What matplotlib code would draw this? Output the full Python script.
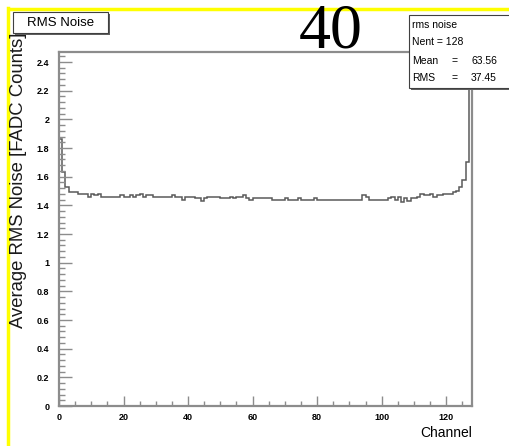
import numpy as np
import matplotlib
matplotlib.use('Agg')
import matplotlib.pyplot as plt
from matplotlib.patches import Rectangle
from matplotlib.ticker import MultipleLocator

# average rms noise per channel
rms_noise = [
    1.86, 1.63, 1.53, 1.49, 1.49, 1.49, 1.48, 1.48, 1.48, 1.46,
    1.48, 1.47, 1.48, 1.46, 1.46, 1.46, 1.46, 1.46, 1.46, 1.47,
    1.46, 1.46, 1.47, 1.46, 1.47, 1.48, 1.46, 1.47, 1.47, 1.46,
    1.46, 1.46, 1.46, 1.46, 1.46, 1.47, 1.46, 1.46, 1.44, 1.46,
    1.46, 1.46, 1.45, 1.45, 1.43, 1.45, 1.46, 1.46, 1.46, 1.46,
    1.45, 1.45, 1.45, 1.46, 1.45, 1.46, 1.46, 1.47, 1.45, 1.44,
    1.45, 1.45, 1.45, 1.45, 1.45, 1.45, 1.44, 1.44, 1.44, 1.44,
    1.45, 1.44, 1.44, 1.44, 1.45, 1.44, 1.44, 1.44, 1.44, 1.45,
    1.44, 1.44, 1.44, 1.44, 1.44, 1.44, 1.44, 1.44, 1.44, 1.44,
    1.44, 1.44, 1.44, 1.44, 1.47, 1.46, 1.44, 1.44, 1.44, 1.44,
    1.44, 1.44, 1.45, 1.46, 1.44, 1.46, 1.42, 1.45, 1.43, 1.45,
    1.45, 1.46, 1.48, 1.47, 1.47, 1.48, 1.46, 1.47, 1.47, 1.48,
    1.48, 1.48, 1.49, 1.50, 1.53, 1.58, 1.70, 2.35,
]
channel_edges = np.arange(len(rms_noise) + 1)

hist_title = 'RMS Noise'
stats_name = 'rms noise'
stats_nent = 128
stats_mean = 63.56
stats_rms = 37.45
page_number = '40'

W, H = 510, 446
fig = plt.figure(figsize=(W / 100, H / 100), dpi=100)
fig.patch.set_facecolor('white')

def fx(px):
    return px / W

def fy(py):
    return 1 - py / H

ax = fig.add_axes([fx(59), fy(406), fx(472) - fx(59), fy(52) - fy(406)])
ax.stairs(rms_noise, channel_edges, baseline=0, color='#5a5a5a', linewidth=1.1)
ax.set_xlim(0, 128)
ax.set_ylim(0, 2.47)

for s in ax.spines.values():
    s.set_color('#8c8c8c')
    s.set_linewidth(1.6)

ax.xaxis.set_major_locator(MultipleLocator(20))
ax.xaxis.set_minor_locator(MultipleLocator(5))
ax.yaxis.set_major_locator(MultipleLocator(0.2))
ax.yaxis.set_minor_locator(MultipleLocator(0.04))
ax.tick_params(axis='both', which='both', direction='in', color='#8c8c8c', width=1.0)
ax.tick_params(axis='y', which='major', length=9, pad=7, labelsize=6.5)
ax.tick_params(axis='y', which='minor', length=4.5)
ax.tick_params(axis='x', which='major', length=7, pad=5, labelsize=6.5)
ax.tick_params(axis='x', which='minor', length=3.5)
ax.tick_params(top=False, right=False)
ax.set_yticks(np.arange(0, 2.41, 0.2))
ax.set_yticklabels(['0' if v == 0 else ('%g' % round(v, 1)) for v in np.arange(0, 2.41, 0.2)],
                   fontweight='bold', family='Liberation Sans')
ax.set_xticks(np.arange(0, 121, 20))
ax.set_xticklabels([str(v) for v in range(0, 121, 20)], fontweight='bold', family='Liberation Sans')

fig.text(fx(472), fy(433), 'Channel', ha='right', va='center', fontsize=10, family='Liberation Sans')
fig.text(fx(18.5), fy(33), 'Average RMS Noise [FADC Counts]', rotation=90, ha='center', va='top',
         fontsize=13.3, family='Liberation Sans', color='#1a1a1a')

# yellow page border
fig.add_artist(plt.Line2D([fx(9), 1], [fy(8.5), fy(8.5)], color='#ffff00', linewidth=2.5))
fig.add_artist(plt.Line2D([fx(8.5), fx(8.5)], [fy(8), 0], color='#ffff00', linewidth=2.5))

# title box
fig.add_artist(Rectangle((fx(15), fy(35)), fx(110) - fx(15), fy(14) - fy(35), transform=fig.transFigure,
                         facecolor='#606060', edgecolor='none', zorder=5))
fig.add_artist(Rectangle((fx(13), fy(33)), fx(108) - fx(13), fy(12) - fy(33), transform=fig.transFigure,
                         facecolor='white', edgecolor='#404040', linewidth=0.8, zorder=6))
fig.text(fx(60.5), fy(22.5), hist_title, ha='center', va='center', fontsize=9.5,
         family='Liberation Sans', zorder=7)

# stats box
fig.add_artist(Rectangle((fx(411), fy(90)), fx(512) - fx(411), fy(18) - fy(90), transform=fig.transFigure,
                         facecolor='#606060', edgecolor='none', zorder=5))
fig.add_artist(Rectangle((fx(409), fy(88)), fx(510) - fx(409), fy(15) - fy(88), transform=fig.transFigure,
                         facecolor='white', edgecolor='#404040', linewidth=0.8, zorder=6))
st_kw = dict(fontsize=7.5, family='Liberation Sans', va='center', zorder=7)
fig.text(fx(412), fy(25), stats_name, ha='left', **st_kw)
fig.text(fx(412), fy(42), 'Nent = %d' % stats_nent, ha='left', **st_kw)
fig.text(fx(412), fy(61), 'Mean', ha='left', **st_kw)
fig.text(fx(455), fy(61), '=', ha='center', **st_kw)
fig.text(fx(497), fy(61), '%.2f' % stats_mean, ha='right', **st_kw)
fig.text(fx(412), fy(78), 'RMS', ha='left', **st_kw)
fig.text(fx(455), fy(78), '=', ha='center', **st_kw)
fig.text(fx(497), fy(78), '%.2f' % stats_rms, ha='right', **st_kw)

# page number
fig.text(fx(331), fy(48), page_number, ha='center', va='baseline', fontsize=46,
         family='Liberation Serif', zorder=8)

fig.savefig('out.png', dpi=100)
